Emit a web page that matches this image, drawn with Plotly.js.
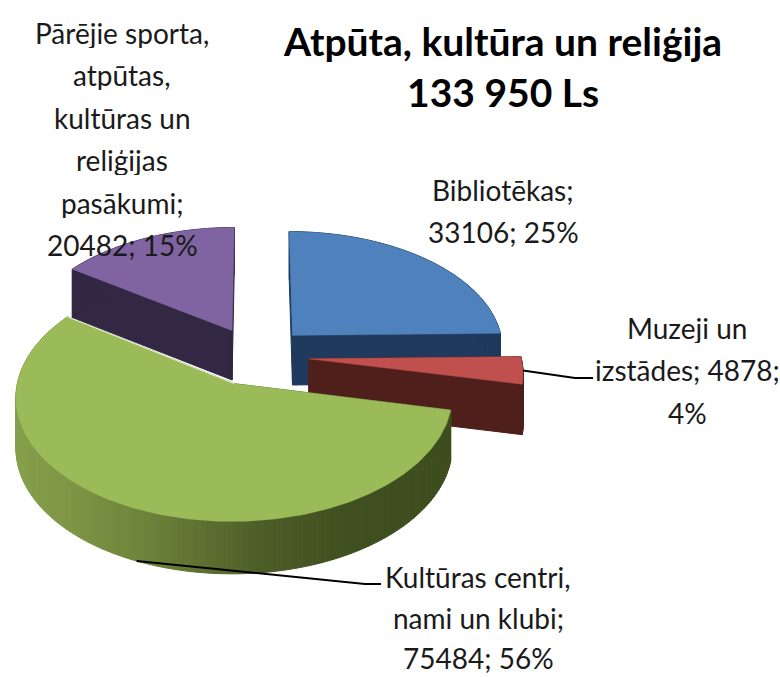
<!DOCTYPE html>
<html>
<head>
<meta charset="utf-8">
<script src="https://cdn.plot.ly/plotly-3.0.1.min.js"></script>
<style>html,body{margin:0;padding:0;background:#fff}#chart{width:780px;height:677px}</style>
</head>
<body>
<div id="chart"></div>
<script>
// ---- data ----
const categories = ["Bibliotēkas", "Muzeji un izstādes", "Kultūras centri, nami un klubi", "Pārējie sporta, atpūtas, kultūras un reliģijas pasākumi"];
const values = [33106, 4878, 75484, 20482];
const labelLines = [
  ["Bibliotēkas;", "33106; 25%"],
  ["Muzeji un", "izstādes; 4878;", "4%"],
  ["Kultūras centri,", "nami un klubi;", "75484; 56%"],
  ["Pārējie sporta,", "atpūtas,", "kultūras un", "reliģijas", "pasākumi;", "20482; 15%"]
];
const titleText = "Atpūta, kultūra un reliģija<br>133 950 Ls";

// ---- styles and layout ----
const topColors = ["#4f81bd", "#c0504d", "#9bbb59", "#8064a2"];
const wallColors = ["#1f3a5c", "#4f1f1c", "#5f7334", "#332843"];
const greenStops = [[15, [134,160,76]], [60, [128,152,70]], [150, [108,130,58]], [260, [78,94,40]], [340, [64,80,32]], [450, [62,78,30]]];
const labelCenters = [[503, 190], [687, 328], [478, 577], [122, 33]];
const labelSteps = [42.4, 42.4, 40.5, 42.4];
const view = {cx: 256, cy: 356, R: 212, Rt: 118, k: 0.1, pull: 0.25};

function project(u, v, drop) {
  const w = 1 - view.k * v;
  const h = drop ? 50 + 2 * v : 0;
  return [view.cx + view.R * u / w, view.cy + view.Rt * v / w + h];
}
const total = values.reduce((a, b) => a + b, 0);
const rad = d => d * Math.PI / 180;
function rim(i, deg, r, drop) {
  const s = slices[i], a = rad(deg), m = rad(s.mid);
  return project(view.pull * Math.sin(m) + r * Math.sin(a), -view.pull * Math.cos(m) - r * Math.cos(a), drop);
}
let acc = 0;
const slices = values.map(val => {
  const start = acc; acc += val / total * 360;
  return {start, end: acc, mid: (start + acc) / 2};
});
function mix(x) {
  let a = greenStops[0], b = greenStops[greenStops.length - 1];
  for (let i = 0; i < greenStops.length - 1; i++) {
    if (x >= greenStops[i][0] && x <= greenStops[i + 1][0]) { a = greenStops[i]; b = greenStops[i + 1]; break; }
  }
  const t = Math.max(0, Math.min(1, (x - a[0]) / (b[0] - a[0])));
  const c = a[1].map((q, j) => Math.round(q + (b[1][j] - q) * t));
  return `rgb(${c[0]},${c[1]},${c[2]})`;
}
function poly(pts, color, name, lw) {
  return {type: "scatter", mode: "lines", x: pts.map(p => p[0]).concat(pts[0][0]), y: pts.map(p => p[1]).concat(pts[0][1]),
    fill: "toself", fillcolor: color, line: {color, width: lw || 0}, hoverinfo: "text", text: name, showlegend: false};
}
function leader(pts, color, width) {
  return {type: "scatter", mode: "lines", x: pts.map(p => p[0]), y: pts.map(p => p[1]), line: {color, width}, hoverinfo: "skip", showlegend: false};
}
const traces = [];
[0, 3, 1, 2].forEach(i => {
  const s = slices[i], name = categories[i] + ": " + values[i];
  const steps = Math.max(4, Math.ceil(s.end - s.start));
  const arc = [];
  for (let n = 0; n <= steps; n++) arc.push(s.start + (s.end - s.start) * n / steps);
  // radial cut faces
  [s.start, s.end].forEach(d => {
    traces.push(poly([rim(i, d, 0), rim(i, d, 1), rim(i, d, 1, true), rim(i, d, 0, true)], wallColors[i], name, 1));
  });
  // outer rim, strip by strip
  for (let n = 0; n < steps; n++) {
    const q = [rim(i, arc[n], 1), rim(i, arc[n + 1], 1), rim(i, arc[n + 1], 1, true), rim(i, arc[n], 1, true)];
    traces.push(poly(q, i === 2 ? mix(q[0][0]) : wallColors[i], name, 1));
  }
  // top face
  traces.push(poly([rim(i, s.mid, 0)].concat(arc.map(d => rim(i, d, 1))), topColors[i], name, 0.5));
});
// pale edge where the green slice meets the purple wall
traces.push(leader([rim(2, slices[2].end, 0), rim(2, slices[2].end, 1)], "#eef2e0", 1));
// leader lines, from the slice rim to the label
traces.push(leader([rim(1, slices[1].mid, 1), [575, 378], [593, 378]], "#000", 2));
traces.push(leader([rim(2, slices[2].mid, 1, true), [365, 584], [381, 584]], "#000", 2));

const annotations = [];
labelLines.forEach((lines, i) => lines.forEach((t, n) => annotations.push({
  x: labelCenters[i][0], y: labelCenters[i][1] + n * labelSteps[i], xref: "x", yref: "y",
  text: t, showarrow: false, xanchor: "center", yanchor: "middle", height: 30, valign: "middle",
  font: {family: "Lato, 'Open Sans', sans-serif", size: 28, color: "#1a1a1a"}
})));

const layout = {
  width: 780, height: 677, margin: {l: 0, r: 0, t: 0, b: 0},
  paper_bgcolor: "#fff", plot_bgcolor: "#fff", showlegend: false,
  title: {text: titleText, x: 0.645, xanchor: "center", xref: "paper", y: 0.917, yanchor: "top", yref: "paper",
    font: {family: "Lato, 'Open Sans', sans-serif", size: 39, color: "#000", weight: 700}},
  xaxis: {range: [0, 780], visible: false, fixedrange: true},
  yaxis: {range: [677, 0], visible: false, fixedrange: true},
  annotations
};
Plotly.newPlot("chart", traces, layout, {displayModeBar: false, responsive: false});
</script>
</body>
</html>
